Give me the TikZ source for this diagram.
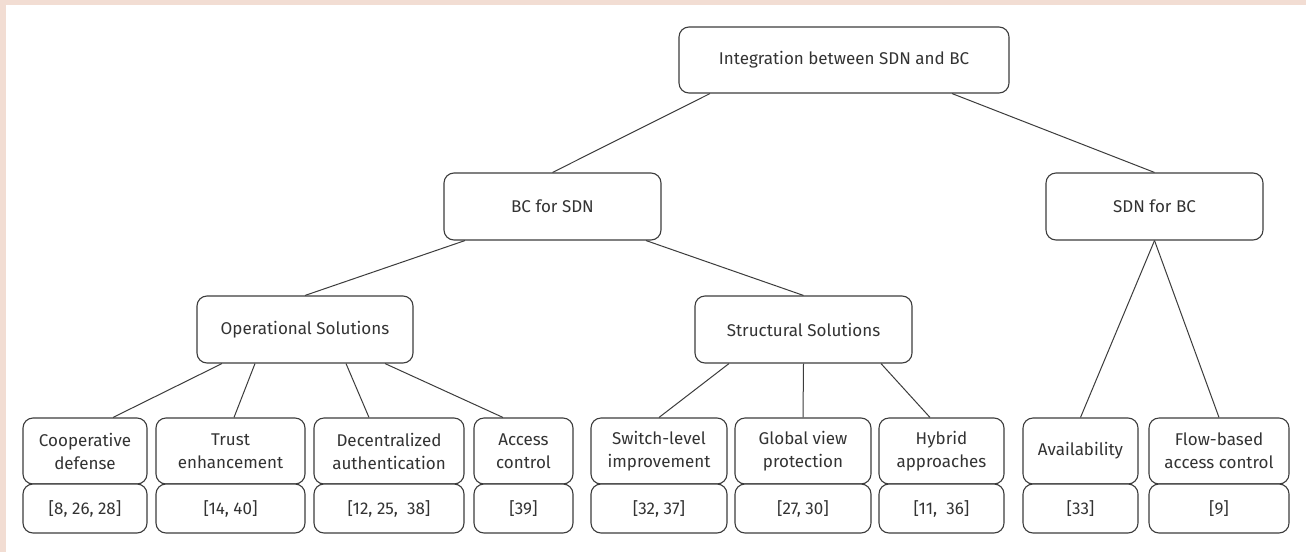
\documentclass[tikz,border=0pt]{standalone}
\usepackage{fontspec}
\setmainfont{Fira Sans}
\usetikzlibrary{calc}
\definecolor{edge}{HTML}{3C3C3C}
\definecolor{ink}{HTML}{333333}
\definecolor{frame}{HTML}{F2DDD3}
\tikzset{
  box/.style={draw=edge, line width=1.1pt, rounded corners=10pt, fill=white,
    align=center, text=ink, inner sep=0pt, font=\fontsize{17}{23}\selectfont},
  link/.style={draw=edge, line width=1pt},
}
\begin{document}
\begin{tikzpicture}[x=1pt, y=-1pt]
  % canvas and the tinted frame on the top and left edges
  \fill[white] (0,0) rectangle (1306,552);
  \fill[frame] (0,0) rectangle (1306,5);
  \fill[frame] (0,0) rectangle (6,552);
  \useasboundingbox (0,0) rectangle (1306,552);

  % upper levels
  \node[box, minimum width=330pt, minimum height=66pt] (root) at (844,60) {Integration between SDN and BC};
  \node[box, minimum width=217pt, minimum height=67pt] (bc)  at (552.5,206.5) {BC for SDN};
  \node[box, minimum width=217pt, minimum height=67pt] (sdn) at (1154.5,206.5) {SDN for BC};
  \node[box, minimum width=216pt, minimum height=67pt] (op)  at (305,329.5) {Operational Solutions};
  \node[box, minimum width=217pt, minimum height=67pt] (st)  at (803.5,329.5) {Structural Solutions};

  % leaves: topic box above, reference box below
  \foreach \n/\cx/\w/\t/\r in {
      coop/85/124/{Cooperative\\defense}/{[8, 26, 28]},
      trust/230.5/149/{Trust\\enhancement}/{[14, 40]},
      dec/389/150/{Decentralized\\authentication}/{[12, 25,\ \ 38]},
      acc/523.5/99/{Access\\control}/{[39]},
      sw/659/136/{Switch-level\\improvement}/{[32, 37]},
      gv/803/136/{Global view\\protection}/{[27, 30]},
      hy/941.5/125/{Hybrid\\approaches}/{[11,\ \ 36]},
      av/1080.5/115/{Availability}/{[33]},
      fl/1219/140/{Flow-based\\access control}/{[9]}}{
    \node[box, minimum width=\w pt, minimum height=66pt] (\n) at (\cx,451) {\t};
    \node[box, minimum width=\w pt, minimum height=49pt] (\n-ref) at (\cx,508.5) {\r};
  }

  % connectors
  \draw[link] ([xshift=-134pt]root.south) -- (bc.north);
  \draw[link] ([xshift=108pt]root.south) -- (sdn.north);
  \draw[link] ([xshift=-87.5pt]bc.south) -- (op.north);
  \draw[link] ([xshift=93.5pt]bc.south) -- (st.north);
  \draw[link] ([xshift=-83pt]op.south) -- ([xshift=28pt]coop.north);
  \draw[link] ([xshift=-50pt]op.south) -- ([xshift=3.5pt]trust.north);
  \draw[link] ([xshift=41pt]op.south) -- ([xshift=-20pt]dec.north);
  \draw[link] ([xshift=80pt]op.south) -- ([xshift=-20.5pt]acc.north);
  \draw[link] ([xshift=-74.5pt]st.south) -- (sw.north);
  \draw[link] (st.south) -- (gv.north);
  \draw[link] ([xshift=77.5pt]st.south) -- ([xshift=-11.5pt]hy.north);
  \draw[link] (sdn.south) -- (av.north);
  \draw[link] (sdn.south) -- (fl.north);
\end{tikzpicture}
\end{document}
